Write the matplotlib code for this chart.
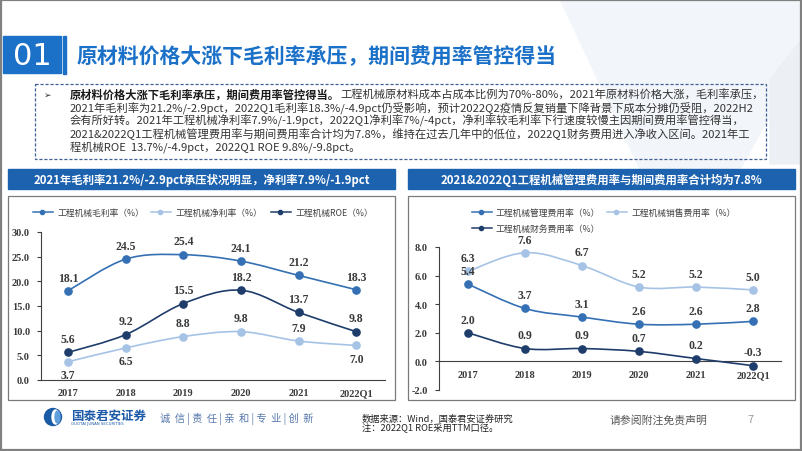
import numpy as np
import matplotlib
matplotlib.use('Agg')
import matplotlib.pyplot as plt
from matplotlib.path import Path
from matplotlib.patches import PathPatch, Rectangle, Circle, Ellipse, Polygon

plt.rcParams['font.family'] = ['Noto Sans CJK SC', 'DejaVu Sans']

# ---- data ----
years = ['2017', '2018', '2019', '2020', '2021', '2022Q1']

gross_margin = [18.1, 24.5, 25.4, 24.1, 21.2, 18.3]
net_margin = [3.7, 6.5, 8.8, 9.8, 7.9, 7.0]
roe = [5.6, 9.2, 15.5, 18.2, 13.7, 9.8]
left_names = ['工程机械毛利率（%）', '工程机械净利率（%）', '工程机械ROE（%）']
left_yticks = [0, 5, 10, 15, 20, 25, 30]

admin_rate = [5.4, 3.7, 3.1, 2.6, 2.6, 2.8]
sales_rate = [6.3, 7.6, 6.7, 5.2, 5.2, 5.0]
finance_rate = [2.0, 0.9, 0.9, 0.7, 0.2, -0.3]
right_names = ['工程机械管理费用率（%）', '工程机械销售费用率（%）', '工程机械财务费用率（%）']
right_yticks = [-2, 0, 2, 4, 6, 8]

title = '原材料价格大涨下毛利率承压，期间费用率管控得当'
left_header = '2021年毛利率21.2%/-2.9pct承压状况明显，净利率7.9%/-1.9pct'
right_header = '2021&2022Q1工程机械管理费用率与期间费用率合计均为7.8%'
body_bold = '原材料价格大涨下毛利率承压，期间费用率管控得当。'
body_lines = [
    '工程机械原材料成本占成本比例为70%-80%，2021年原材料价格大涨，毛利率承压，',
    '2021年毛利率为21.2%/-2.9pct，2022Q1毛利率18.3%/-4.9pct仍受影响，预计2022Q2疫情反复销量下降背景下成本分摊仍受阻，2022H2',
    '会有所好转。2021年工程机械净利率7.9%/-1.9pct，2022Q1净利率7%/-4pct，净利率较毛利率下行速度较慢主因期间费用率管控得当，',
    '2021&2022Q1工程机械管理费用率与期间费用率合计均为7.8%，维持在过去几年中的低位，2022Q1财务费用进入净收入区间。2021年工',
    '程机械ROE  13.7%/-4.9pct，2022Q1 ROE 9.8%/-9.8pct。',
]

MID = '#3470b3'
LIGHT = '#a6c3e5'
DARK = '#1f3d6b'
BLUE = '#1b70c8'
LABEL = '#3a3a3a'
SERIF = 'Liberation Serif'


def smooth_path(ys):
    # Excel-style smoothed line: cubic Bezier through every data point
    pts = np.column_stack([np.arange(len(ys)), ys]).astype(float)
    n = len(pts)
    verts, codes = [pts[0]], [Path.MOVETO]
    for i in range(n - 1):
        p0, p1 = pts[max(i - 1, 0)], pts[i]
        p2, p3 = pts[i + 1], pts[min(i + 2, n - 1)]
        verts += [p1 + (p2 - p0) / 6, p2 - (p3 - p1) / 6, p2]
        codes += [Path.CURVE4] * 3
    return Path(verts, codes)


def draw_series(ax, ys, color, sides):
    ax.add_patch(PathPatch(smooth_path(ys), fill=False, edgecolor=color, lw=1.2, zorder=3))
    ax.plot(range(len(ys)), ys, ls='none', marker='o', ms=5.2, color=color, zorder=4)
    for i, v in enumerate(ys):
        dy = 9.5 if sides[i] == 'up' else -9.5
        ax.annotate(f'{v:.1f}', (i, v), xytext=(0, dy), textcoords='offset points',
                    ha='center', va='center', fontsize=8.5, fontweight='bold',
                    family=SERIF, color=LABEL, zorder=5)


fig = plt.figure(figsize=(8.02, 4.52), dpi=100)
bg = fig.add_axes([0, 0, 1, 1])
bg.set_xlim(0, 802)
bg.set_ylim(452, 0)
bg.axis('off')

# faint background shapes
bg.add_patch(Polygon([(560, 0), (802, 0), (802, 60), (740, 170), (640, 170)],
                     closed=True, color='#f2f5f9', zorder=0))
bg.add_patch(Polygon([(770, 80), (802, 40), (802, 165), (770, 165)],
                     closed=True, color='#eceff3', zorder=0))
bg.add_patch(Rectangle((1, 1), 800, 450, fill=False, edgecolor='#808080', lw=1.6, zorder=10))

# title block
bg.add_patch(Rectangle((3, 37), 58, 37, color=BLUE, zorder=1))
bg.text(32, 56.5, '01', color='white', fontsize=22, ha='center', va='center',
        family='DejaVu Sans', zorder=2)
bg.add_patch(Rectangle((63, 37), 3, 38, color=BLUE, zorder=1))
bg.text(77, 57, title, color=BLUE, fontsize=15, fontweight='bold', va='center', zorder=2)

# text box
bg.add_patch(Rectangle((35, 85), 731, 75, fill=False, edgecolor='#3f5f95',
                       lw=0.9, ls=(0, (2.5, 1.5)), zorder=1))
bg.text(48, 95.5, '➢', fontsize=6.5, va='center', ha='center', color='#333333',
        family='DejaVu Sans')
body_fs = 8.1
first = bg.text(70, 95.5, body_bold, fontsize=body_fs, fontweight='bold', va='center',
                color='#1a1a1a')
bg.annotate(body_lines[0], xy=(1, 0.5), xycoords=first, va='center', ha='left',
            fontsize=body_fs, color='#333333')
for k, line in enumerate(body_lines[1:], start=1):
    bg.text(70, 95.5 + k * 12.9, line, fontsize=body_fs, va='center', color='#333333')

# panel headers and frames
for x0, text in [(8, left_header), (408, right_header)]:
    bg.add_patch(Rectangle((x0, 170), 387, 20, color='#1d62ae', zorder=1))
    bg.text(x0 + 193.5, 180, text, color='white', fontsize=8.2, fontweight='bold',
            ha='center', va='center', zorder=2)
    bg.add_patch(Rectangle((x0, 197), 387, 204, fill=False, edgecolor='#7a7a7a',
                           lw=0.9, zorder=1))

# legends
def legend_item(x, y, color, text):
    bg.plot([x, x + 20], [y, y], color=color, lw=1.1)
    bg.plot([x + 9], [y], marker='o', ms=3, color=color)
    bg.text(x + 24, y, text, fontsize=6.3, va='center', color='#404040')

for x, color, name in zip([33, 151, 271], [MID, LIGHT, DARK], left_names):
    legend_item(x, 213, color, name)
for (x, y), color, name in zip([(472, 213), (607, 213), (472, 229)],
                               [MID, LIGHT, DARK], right_names):
    legend_item(x, y, color, name)

# ---- left chart ----
ax1 = fig.add_axes([41 / 802, (452 - 381) / 452, 344 / 802, 148 / 452])
ax1.set_facecolor('none')
ax1.set_xlim(-0.47, 5.5)
ax1.set_ylim(0, 30)
draw_series(ax1, gross_margin, MID, ['up'] * 6)
draw_series(ax1, net_margin, LIGHT, ['down', 'down', 'up', 'up', 'up', 'down'])
draw_series(ax1, roe, DARK, ['up'] * 6)
ax1.set_yticks(left_yticks)
ax1.set_yticklabels([f'{v:.1f}' for v in left_yticks])

# ---- right chart ----
ax2 = fig.add_axes([439 / 802, (452 - 391) / 452, 342 / 802, 143 / 452])
ax2.set_facecolor('none')
ax2.set_xlim(-0.51, 5.49)
ax2.set_ylim(-2, 8)
draw_series(ax2, sales_rate, LIGHT, ['up'] * 6)
draw_series(ax2, admin_rate, MID, ['up'] * 6)
draw_series(ax2, finance_rate, DARK, ['up'] * 6)
ax2.set_yticks(right_yticks)
ax2.set_yticklabels([f'{v:.1f}' for v in right_yticks])
ax2.spines['bottom'].set_position(('data', 0))

for ax in (ax1, ax2):
    ax.set_xticks(range(len(years)))
    ax.set_xticklabels(years)
    for s in ('top', 'right'):
        ax.spines[s].set_visible(False)
    for s in ('left', 'bottom'):
        ax.spines[s].set_color('#404040')
        ax.spines[s].set_linewidth(0.8)
    ax.tick_params(axis='y', direction='out', length=3, width=0.8, pad=5, color='#404040')
    ax.tick_params(axis='x', length=0, pad=6)
    for lab in ax.get_xticklabels() + ax.get_yticklabels():
        lab.set_family(SERIF)
        lab.set_fontweight('bold')
        lab.set_fontsize(7.5)
        lab.set_color(LABEL)

# ---- footer ----
bg.add_patch(Circle((53, 418), 8.5, color='#1a5ba6', zorder=2))
bg.add_patch(Ellipse((55.5, 418), 7, 14, color='white', zorder=3))
bg.add_patch(Ellipse((57.5, 418), 5, 12, color='#5fa0dc', zorder=4))
bg.text(71, 416, '国泰君安证券', fontsize=9, fontweight='bold', color='#1d5aa8', va='center')
bg.text(71, 424.5, 'GUOTAI JUNAN SECURITIES', fontsize=2.8, color='#1d5aa8', va='center',
        family='DejaVu Sans')
bg.text(160, 419, '诚  信 | 责  任 | 亲  和 | 专  业 | 创  新', fontsize=7.4,
        color='#5577aa', va='center')
bg.text(362, 419, '数据来源：Wind，国泰君安证券研究', fontsize=6.7, color='#222222', va='center')
bg.text(362, 428.5, '注：2022Q1 ROE采用TTM口径。', fontsize=6.7, color='#222222', va='center')
bg.text(610, 420, '请参阅附注免责声明', fontsize=7.8, color='#555555', va='center')
bg.text(747, 420, '7', fontsize=7.8, color='#999999', va='center')

fig.savefig('out.png', dpi=100)
